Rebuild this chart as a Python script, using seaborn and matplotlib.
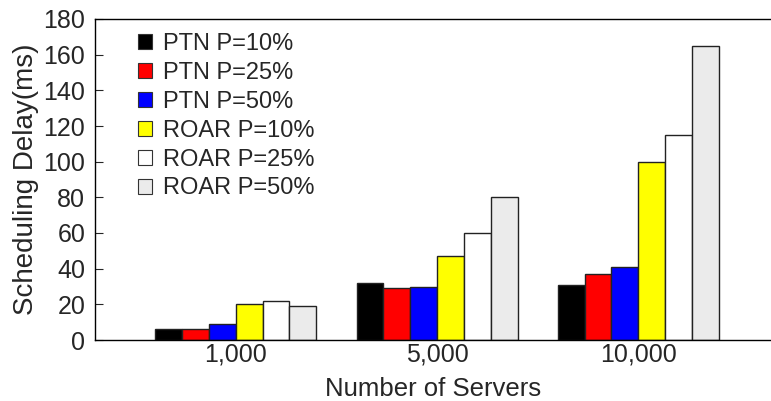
import matplotlib
matplotlib.use("Agg")
import matplotlib.pyplot as plt
import seaborn as sns
import pandas as pd

servers = ["1,000", "5,000", "10,000"]
series = ["PTN P=10%", "PTN P=25%", "PTN P=50%",
          "ROAR P=10%", "ROAR P=25%", "ROAR P=50%"]
ptn_10 = [6, 32, 31]
ptn_25 = [6, 29, 37]
ptn_50 = [9, 30, 41]
roar_10 = [20, 47, 100]
roar_25 = [22, 60, 115]
roar_50 = [19, 80, 165]
colors = ["#000000", "#ff0000", "#0000ff", "#ffff00", "#ffffff", "#ebebeb"]

values = [ptn_10, ptn_25, ptn_50, roar_10, roar_25, roar_50]
rows = []
for name, vals in zip(series, values):
    for s, v in zip(servers, vals):
        rows.append({"Servers": s, "Series": name, "Delay": v})
df = pd.DataFrame(rows)

sns.set_style("white")
plt.rcParams["font.family"] = ["Liberation Sans", "DejaVu Sans"]

fig = plt.figure(figsize=(7.71, 4.01), dpi=100)
ax = fig.add_axes([95 / 771, 61 / 401, 676 / 771, 321 / 401])

sns.barplot(data=df, x="Servers", y="Delay", hue="Series",
            order=servers, hue_order=series, palette=colors,
            width=0.8, edgecolor="#222222", linewidth=1.0,
            saturation=1, ax=ax)

ax.set_xlim(-0.70, 2.66)
ax.set_ylim(0, 180)
ax.set_yticks(range(0, 181, 20))
ax.tick_params(axis="y", direction="in", length=6, width=0.8,
               labelsize=18, pad=7, left=True)
ax.tick_params(axis="x", length=0, labelsize=18, pad=2)
ax.set_xlabel("Number of Servers", fontsize=18.5, labelpad=7)
ax.set_ylabel("Scheduling Delay(ms)", fontsize=20, labelpad=3)

for side in ["left", "top", "bottom"]:
    ax.spines[side].set_color("black")
    ax.spines[side].set_linewidth(1.0)
ax.spines["right"].set_visible(False)

leg = ax.legend(loc="upper left", bbox_to_anchor=(0.049, 0.985),
                frameon=False, fontsize=17, handlelength=0.6,
                handleheight=0.6, handletextpad=0.47, labelspacing=0.29,
                borderaxespad=0)
for h in leg.legend_handles:
    h.set_edgecolor("#333333")
    h.set_linewidth(0.8)

fig.savefig("out.png", dpi=100)
